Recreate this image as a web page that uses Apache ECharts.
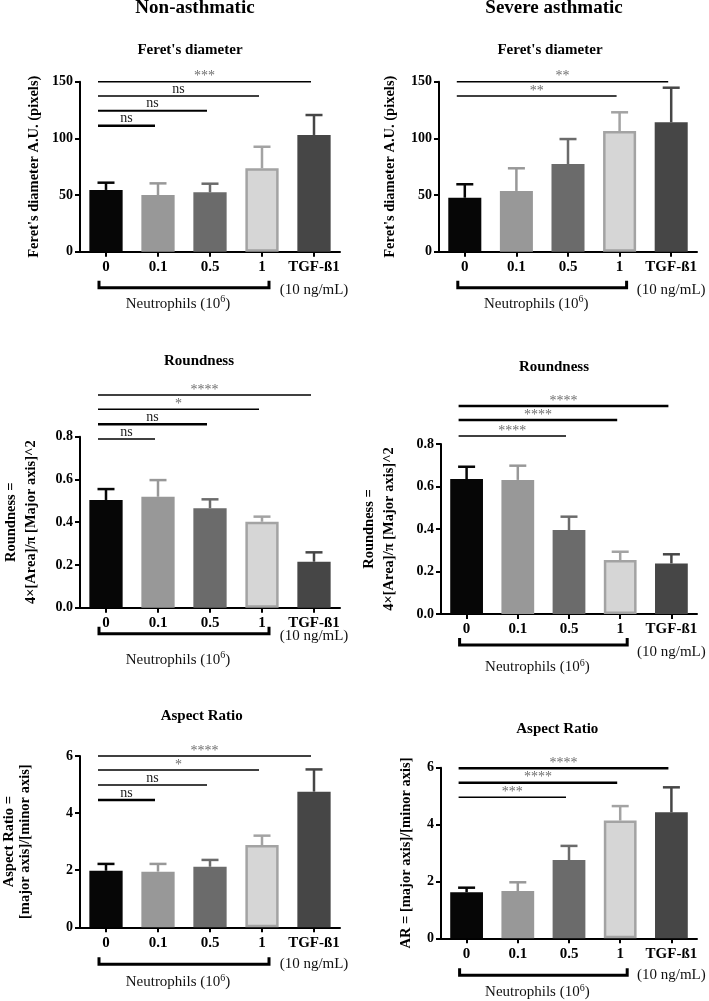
<!DOCTYPE html>
<html><head><meta charset="utf-8">
<script src="https://cdn.jsdelivr.net/npm/echarts@6/dist/echarts.min.js"></script>
<style>html,body{margin:0;padding:0;background:#fff}#c{width:709px;height:1001px}</style>
</head><body><div id="c"></div>
<script>
// ---------------- DATA ----------------
const categories = ['0', '0.1', '0.5', '1', 'TGF-ß1'];
const groupLabel = 'Neutrophils (10';
const groupExp = '6';
const tgfDose = '(10 ng/mL)';
const columnTitles = ['Non-asthmatic', 'Severe asthmatic'];

// Feret's diameter
const feretNonMean = [54.5, 50.0, 52.4, 73.6, 103.0];
const feretNonSem  = [6.4, 10.3, 7.6, 19.0, 17.6];
const feretNonSigTo = [4, 3, 2, 1];
const feretNonSigY  = [150, 137.4, 124.4, 111.2];
const feretNonSigLabel = ['***', 'ns', 'ns', 'ns'];

const feretSevMean = [47.6, 53.6, 77.4, 106.5, 114.2];
const feretSevSem  = [11.9, 20.0, 22.0, 16.5, 30.5];
const feretSevSigTo = [4, 3];
const feretSevSigY  = [150, 137.4];
const feretSevSigLabel = ['**', '**'];

// Roundness
const roundNonMean = [0.504, 0.519, 0.465, 0.402, 0.215];
const roundNonSem  = [0.051, 0.078, 0.042, 0.024, 0.044];
const roundNonSigTo = [4, 3, 2, 1];
const roundNonSigY  = [0.995, 0.928, 0.858, 0.789];
const roundNonSigLabel = ['****', '*', 'ns', 'ns'];

const roundSevMean = [0.635, 0.631, 0.395, 0.254, 0.238];
const roundSevSem  = [0.058, 0.067, 0.063, 0.039, 0.043];
const roundSevSigTo = [4, 3, 2];
const roundSevSigY  = [0.979, 0.913, 0.838];
const roundSevSigLabel = ['****', '****', '****'];

// Aspect ratio
const arNonMean = [1.98, 1.95, 2.12, 2.88, 4.75];
const arNonSem  = [0.24, 0.27, 0.24, 0.33, 0.78];
const arNonSigTo = [4, 3, 2, 1];
const arNonSigY  = [6.0, 5.51, 4.98, 4.46];
const arNonSigLabel = ['****', '*', 'ns', 'ns'];

const arSevMean = [1.62, 1.66, 2.75, 4.14, 4.43];
const arSevSem  = [0.16, 0.31, 0.50, 0.51, 0.88];
const arSevSigTo = [4, 3, 2];
const arSevSigY  = [5.98, 5.47, 4.96];
const arSevSigLabel = ['****', '****', '***'];

// Axis ticks
const feretTicks = {min: 0, max: 150, interval: 50};
const roundTicks = {min: 0, max: 0.8, interval: 0.2};
const arTicks = {min: 0, max: 6, interval: 2};

// ---------------- STYLE / LAYOUT ----------------
const FONT = "'Liberation Serif','Times New Roman',serif";
const barFill   = ['#060606', '#989898', '#6b6b6b', '#d6d6d6', '#464646'];
const barBorder = [null, null, null, '#a3a3a3', null];
const errColor  = ['#060606', '#989898', '#6b6b6b', '#a3a3a3', '#464646'];

const panels = [
  {title: "Feret's diameter", yName: "Feret's diameter A.U. (pixels)", mean: feretNonMean, sem: feretNonSem,
   sigTo: feretNonSigTo, sigY: feretNonSigY, sigLabel: feretNonSigLabel, ticks: feretTicks, dec: 0,
   L: {left: 80, top: 81.7, width: 260, height: 170, tx: 190, ty: 43, nameGap: 38, lh: 16,
       sigW: [1.5, 1.5, 2, 2.5], bracketDy: 36, doseDy: 38, neutDy: 52}},
  {title: "Feret's diameter", yName: "Feret's diameter A.U. (pixels)", mean: feretSevMean, sem: feretSevSem,
   sigTo: feretSevSigTo, sigY: feretSevSigY, sigLabel: feretSevSigLabel, ticks: feretTicks, dec: 0,
   L: {left: 439, top: 81.7, width: 258, height: 170, tx: 550, ty: 43, nameGap: 41, lh: 16,
       sigW: [1.5, 1.5], bracketDy: 36, doseDy: 38, neutDy: 52}},
  {title: 'Roundness', yName: 'Roundness =\n4×[Area]/π [Major axis]^2', mean: roundNonMean, sem: roundNonSem,
   sigTo: roundNonSigTo, sigY: roundNonSigY, sigLabel: roundNonSigLabel, ticks: roundTicks, dec: 1,
   L: {left: 80, top: 436.7, width: 260, height: 171, tx: 199, ty: 353.5, nameGap: 39, lh: 20,
       sigW: [1.5, 1.5, 2.5, 1.5], bracketDy: 26, doseDy: 28, neutDy: 52}},
  {title: 'Roundness', yName: 'Roundness =\n4×[Area]/π [Major axis]^2', mean: roundSevMean, sem: roundSevSem,
   sigTo: roundSevSigTo, sigY: roundSevSigY, sigLabel: roundSevSigLabel, ticks: roundTicks, dec: 1,
   L: {left: 441, top: 444, width: 256, height: 170, tx: 554, ty: 360, nameGap: 42, lh: 20,
       sigW: [2.5, 2.5, 1.5], bracketDy: 31, doseDy: 38, neutDy: 53}},
  {title: 'Aspect Ratio', yName: 'Aspect Ratio =\n[major axis]/[minor axis]', mean: arNonMean, sem: arNonSem,
   sigTo: arNonSigTo, sigY: arNonSigY, sigLabel: arNonSigLabel, ticks: arTicks, dec: 0,
   L: {left: 80, top: 756, width: 260, height: 171.3, tx: 201.7, ty: 709, nameGap: 47, lh: 16,
       sigW: [1.5, 1.5, 1.5, 2.5], bracketDy: 37, doseDy: 37, neutDy: 55}},
  {title: 'Aspect Ratio', yName: 'AR = [major axis]/[minor axis]', mean: arSevMean, sem: arSevSem,
   sigTo: arSevSigTo, sigY: arSevSigY, sigLabel: arSevSigLabel, ticks: arTicks, dec: 0,
   L: {left: 441, top: 767.7, width: 256, height: 170.6, tx: 557.3, ty: 722, nameGap: 27, lh: 16,
       sigW: [2.5, 2.5, 1.5], bracketDy: 37, doseDy: 37, neutDy: 54}}
];

// ---------------- RENDERERS ----------------
function errRender(params, api) {
  const i = api.value(0), m = api.value(1), s = api.value(2);
  const b = api.coord([i, m]), t = api.coord([i, m + s]);
  const c = errColor[i];
  return {type: 'group', children: [
    {type: 'line', shape: {x1: b[0], y1: b[1], x2: t[0], y2: t[1]}, style: {stroke: c, lineWidth: 2.5}},
    {type: 'line', shape: {x1: t[0] - 8.5, y1: t[1], x2: t[0] + 8.5, y2: t[1]}, style: {stroke: c, lineWidth: 2.5}}
  ]};
}

function sigRender(P) {
  return function (params, api) {
    const k = params.dataIndex;
    const y = api.value(1), to = api.value(2);
    const a = api.coord([0, y]), b = api.coord([to, y]);
    const x1 = a[0] - 8, x2 = b[0] - 3;
    const lab = P.sigLabel[k];
    const star = lab.indexOf('*') >= 0;
    return {type: 'group', children: [
      {type: 'line', shape: {x1: x1, y1: a[1], x2: x2, y2: a[1]}, style: {stroke: '#000', lineWidth: P.L.sigW[k]}},
      {type: 'text', style: {text: lab, x: (x1 + x2) / 2, y: a[1] + (star ? 2 : 0), align: 'center',
        verticalAlign: 'bottom', fill: star ? '#6e6e6e' : '#222', font: '14px ' + FONT}}
    ]};
  };
}

function bracketRender(P) {
  return function (params, api) {
    const a = api.coord([0, 0]), b = api.coord([3, 0]), c = api.coord([4, 0]);
    const y = a[1] + P.L.bracketDy;
    const x1 = a[0] - 7, x2 = b[0] + 7;
    return {type: 'group', children: [
      {type: 'polyline', shape: {points: [[x1, y - 7], [x1, y], [x2, y], [x2, y - 7]]},
        style: {stroke: '#000', lineWidth: 3, fill: 'none'}},
      {type: 'text', style: {
        text: '{a|' + groupLabel + '}{s|' + groupExp + '}{a|)}',
        x: (x1 + x2) / 2 - 6, y: a[1] + P.L.neutDy, align: 'center', verticalAlign: 'middle',
        rich: {
          a: {fontSize: 15, fontFamily: FONT, fill: '#111', lineHeight: 18},
          s: {fontSize: 10, fontFamily: FONT, fill: '#111', lineHeight: 18, verticalAlign: 'top'}
        }}},
      {type: 'text', style: {text: tgfDose, x: c[0], y: a[1] + P.L.doseDy, align: 'center',
        verticalAlign: 'middle', fill: '#111', font: '15px ' + FONT}}
    ]};
  };
}

// ---------------- OPTION ----------------
const titles = [
  {text: columnTitles[0], left: 195, top: -1, textAlign: 'center', padding: 0,
   textStyle: {fontFamily: FONT, fontWeight: 'bold', fontSize: 19, color: '#000'}},
  {text: columnTitles[1], left: 554, top: -1, textAlign: 'center', padding: 0,
   textStyle: {fontFamily: FONT, fontWeight: 'bold', fontSize: 19, color: '#000'}}
];
const grids = [], xAxes = [], yAxes = [], series = [];
panels.forEach(function (P, i) {
  const L = P.L;
  titles.push({text: P.title, left: L.tx, top: L.ty, textAlign: 'center', padding: 0,
    textStyle: {fontFamily: FONT, fontWeight: 'bold', fontSize: 15, color: '#000'}});
  grids.push({left: L.left, top: L.top, width: L.width, height: L.height, containLabel: false, outerBoundsMode: 'none'});
  xAxes.push({gridIndex: i, type: 'category', data: categories,
    axisLine: {show: true, lineStyle: {color: '#000', width: 2}},
    axisTick: {show: true, alignWithLabel: true, length: 5, lineStyle: {color: '#000', width: 2}},
    axisLabel: {show: true, interval: 0, margin: 8, fontFamily: FONT, fontWeight: 'bold', fontSize: 15, color: '#000'},
    splitLine: {show: false}});
  yAxes.push({gridIndex: i, type: 'value', min: P.ticks.min, max: P.ticks.max, interval: P.ticks.interval,
    name: P.yName, nameLocation: 'middle', nameRotate: 90, nameGap: L.nameGap, nameMoveOverlap: false,
    nameTextStyle: {fontFamily: FONT, fontWeight: 'bold', fontSize: 14.5, color: '#000', lineHeight: L.lh},
    axisLine: {show: true, lineStyle: {color: '#000', width: 2}},
    axisTick: {show: true, length: 5, lineStyle: {color: '#000', width: 2}},
    axisLabel: {show: true, margin: 7, fontFamily: FONT, fontWeight: 'bold', fontSize: 14, color: '#000',
      formatter: (function (d) { return function (v) { return v.toFixed(d); }; })(P.dec)},
    splitLine: {show: false}});
  series.push({type: 'bar', xAxisIndex: i, yAxisIndex: i, barWidth: '64%', silent: true,
    data: P.mean.map(function (v, j) {
      return {value: v, itemStyle: {color: barFill[j], borderColor: barBorder[j] || barFill[j], borderWidth: barBorder[j] ? 2.5 : 0}};
    })});
  series.push({type: 'custom', xAxisIndex: i, yAxisIndex: i, silent: true, clip: false, z: 3,
    renderItem: errRender, encode: {x: 0, y: 1},
    data: P.mean.map(function (v, j) { return [j, v, P.sem[j]]; })});
  series.push({type: 'custom', xAxisIndex: i, yAxisIndex: i, silent: true, clip: false, z: 3,
    renderItem: sigRender(P), encode: {x: 0, y: 1},
    data: P.sigY.map(function (y, k) { return [0, y, P.sigTo[k]]; })});
  series.push({type: 'custom', xAxisIndex: i, yAxisIndex: i, silent: true, clip: false, z: 3,
    renderItem: bracketRender(P), encode: {x: 0, y: 1},
    data: [[0, 0]]});
});

const chart = echarts.init(document.getElementById('c'), null, {renderer: 'canvas'});
chart.setOption({
  animation: false,
  backgroundColor: '#fff',
  title: titles,
  grid: grids,
  xAxis: xAxes,
  yAxis: yAxes,
  series: series
});
</script></body></html>
